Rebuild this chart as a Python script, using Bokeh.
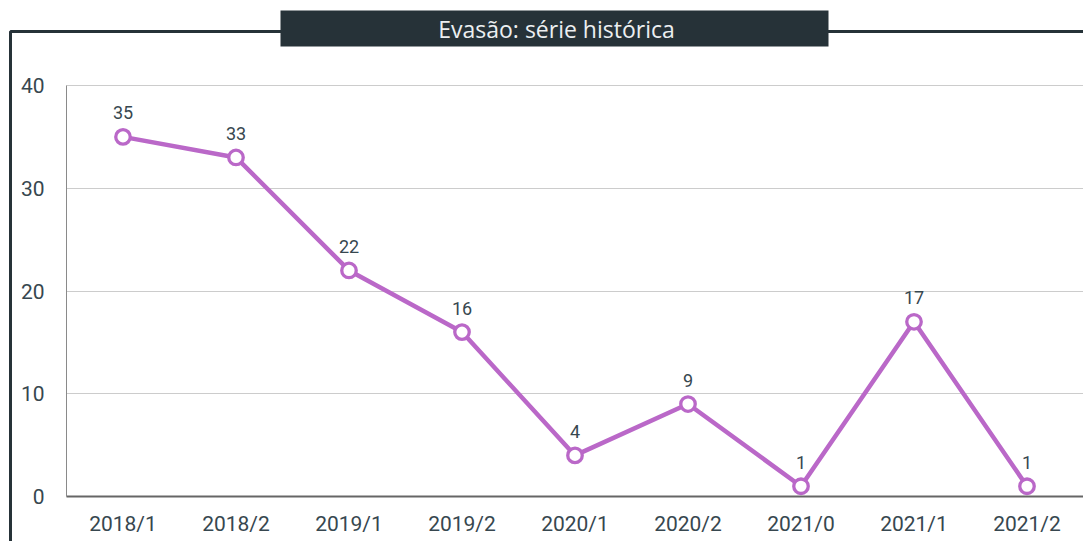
from bokeh.plotting import figure
from bokeh.models import ColumnDataSource, Range1d, FixedTicker, Label, LabelSet, BoxAnnotation
from bokeh.core.properties import value
from bokeh.embed import file_html
from bokeh.resources import INLINE

# ---- data ----
periods = ["2018/1", "2018/2", "2019/1", "2019/2", "2020/1", "2020/2", "2021/0", "2021/1", "2021/2"]
evasao = [35, 33, 22, 16, 4, 9, 1, 17, 1]
y_ticks = [0, 10, 20, 30, 40]
title_text = "Evasão: série histórica"

xs = list(range(len(periods)))
src = ColumnDataSource(dict(x=xs, y=evasao, lbl=[str(v) for v in evasao]))

# ---- layout (pixels on the canvas) ----
W, H = 1083, 541
PX_LEFT, PX_RIGHT = 66, 1083      # plotting area horizontally
PX_TOP, PX_BOTTOM = 85, 496       # y=40 and y=0
x_lo, x_hi = -0.5, len(periods) - 0.5
y_lo, y_hi = 0, 40
sx = (PX_RIGHT - PX_LEFT) / (x_hi - x_lo)
sy = (PX_BOTTOM - PX_TOP) / (y_hi - y_lo)
x_range = Range1d(x_lo - PX_LEFT / sx, x_hi + (W - PX_RIGHT) / sx)
y_range = Range1d(y_lo - (H - PX_BOTTOM) / sy, y_hi + PX_TOP / sy)

p = figure(width=W, height=H, output_backend="svg", toolbar_location=None,
           x_range=x_range, y_range=y_range,
           min_border=0, min_border_left=0, min_border_right=0,
           min_border_top=0, min_border_bottom=0)
p.outline_line_color = None
p.background_fill_color = "white"
p.border_fill_color = "white"

# axes (kept in side panels, drawn at fixed data locations)
p.xaxis.fixed_location = y_lo
p.xaxis.bounds = (x_lo, x_hi)
p.xaxis.ticker = FixedTicker(ticks=xs)
p.xaxis.major_label_overrides = {i: s for i, s in enumerate(periods)}
p.xaxis.axis_line_color = "#666666"
p.xaxis.axis_line_width = 2
p.xaxis.major_tick_line_color = None
p.xaxis.major_tick_out = 0
p.xaxis.major_tick_in = 0
p.xaxis.minor_tick_line_color = None
p.xaxis.major_label_text_font = "Roboto"
p.xaxis.major_label_text_font_size = "21px"
p.xaxis.major_label_text_color = "#37474F"
p.xaxis.major_label_standoff = 15

p.yaxis.fixed_location = x_lo
p.yaxis.bounds = (y_lo, y_hi)
p.yaxis.ticker = FixedTicker(ticks=y_ticks)
p.yaxis.axis_line_color = "#8a8a8a"
p.yaxis.major_tick_line_color = None
p.yaxis.major_tick_out = 0
p.yaxis.major_tick_in = 0
p.yaxis.minor_tick_line_color = None
p.yaxis.major_label_text_font = "Roboto"
p.yaxis.major_label_text_font_size = "21px"
p.yaxis.major_label_text_color = "#37474F"
p.yaxis.major_label_standoff = 22

p.xgrid.grid_line_color = None
p.ygrid.ticker = FixedTicker(ticks=y_ticks)
p.ygrid.grid_line_color = "#cccccc"
p.ygrid.cross_bounds = (x_lo, x_hi)

# container border (top + left lines) and dark title box, in screen units
border = BoxAnnotation(left=10, right=W + 50, top=H - 31, bottom=-50,
                       left_units="screen", right_units="screen",
                       top_units="screen", bottom_units="screen",
                       fill_color=None, fill_alpha=0,
                       line_color="#263238", line_width=3, line_alpha=1)
p.add_layout(border)
tbox = BoxAnnotation(left=280, right=828, top=H - 10, bottom=H - 46,
                     left_units="screen", right_units="screen",
                     top_units="screen", bottom_units="screen",
                     fill_color="#263238", fill_alpha=1, line_color=None)
p.add_layout(tbox)
tlabel = Label(x=556, y=H - 28, x_units="screen", y_units="screen",
               text=title_text, text_align="center", text_baseline="middle",
               text_color="#eceff1", text_font="Open Sans", text_font_size="23px")
p.add_layout(tlabel)

# series
p.line("x", "y", source=src, line_color="#ba68c8", line_width=4.5)
p.scatter("x", "y", source=src, marker="circle", size=14.5, fill_color="white",
          line_color="#ba68c8", line_width=3.3)

labels = LabelSet(x="x", y="y", text="lbl", source=src, y_offset=24,
                  text_align="center", text_baseline="middle",
                  text_font=value("Roboto"), text_font_size="18px", text_color="#37474F")
p.add_layout(labels)

open("out.html", "w").write(file_html(p, INLINE))
